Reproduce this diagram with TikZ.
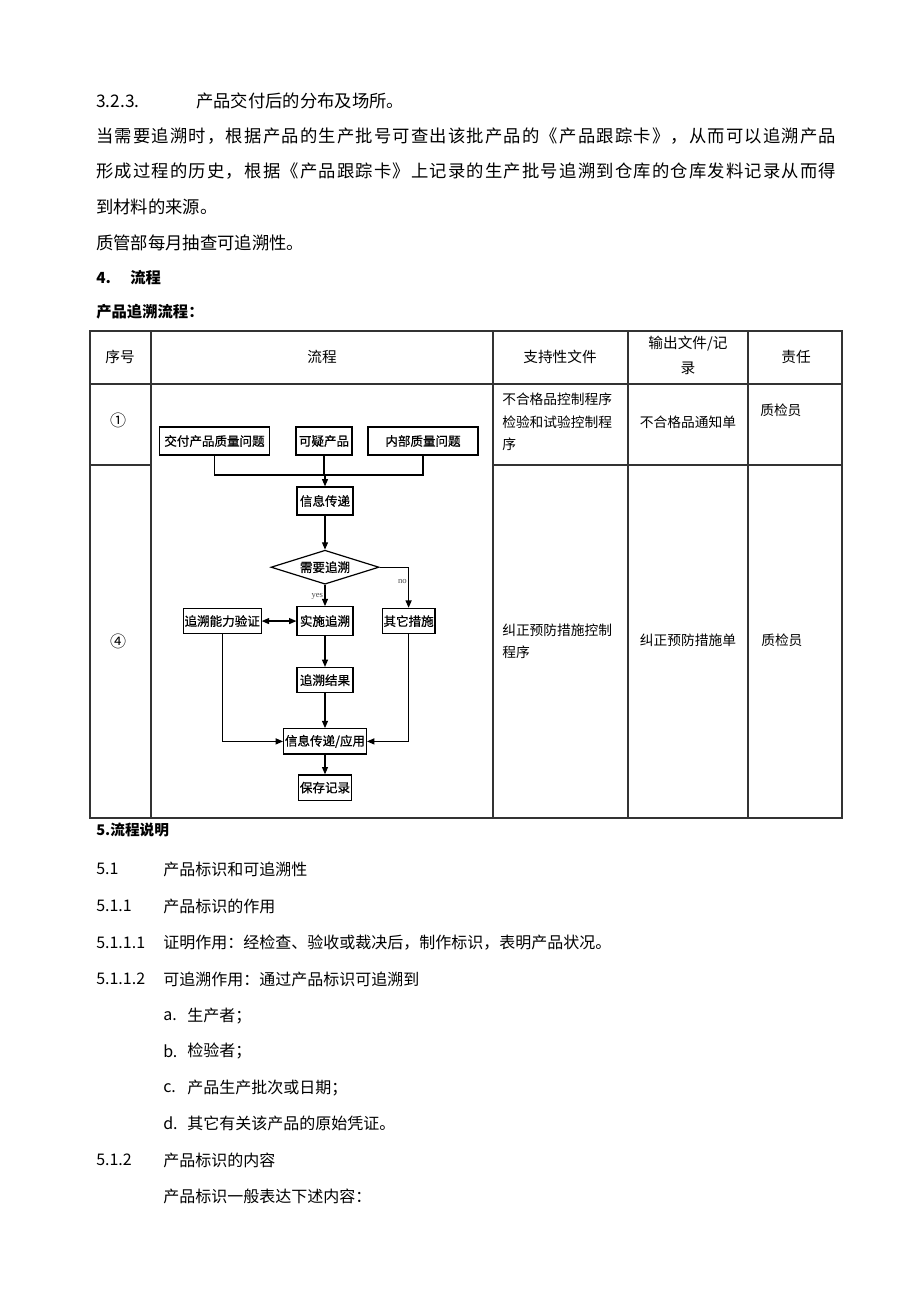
\documentclass[tikz,border=0pt]{standalone}
\usepackage{fontspec}
\setmainfont{Noto Sans CJK SC}
\newfontfamily\latinserif{Liberation Serif}
\newfontfamily\flowfont{Noto Sans CJK SC}[FakeBold=0.8]
\usetikzlibrary{arrows.meta, positioning, shapes.geometric}

% wider letter spacing for the two full-width lines
\newcommand{\widelines}{\addfontfeatures{LetterSpace=6.9}}

\begin{document}
\begin{tikzpicture}[
    x=0.75pt, y=-0.75pt,
    >={Triangle[length=5.5pt, width=4.5pt]},
    % Styles
    bodytext/.style={anchor=west, inner sep=0pt, font=\fontsize{13}{15}\selectfont},
    smalltext/.style={anchor=west, inner sep=0pt, font=\fontsize{12}{14}\selectfont},
    headline/.style={anchor=west, inner sep=0pt, font=\fontsize{11.5}{14}\selectfont\bfseries},
    tableline/.style={line width=0.8pt, color=black!80},
    headtext/.style={inner sep=0pt, font=\fontsize{11}{18.75}\selectfont, align=center},
    celltext/.style={inner sep=0pt, font=\fontsize{10.3}{17}\selectfont, align=left},
    numtext/.style={inner sep=0pt, font=\fontsize{12}{14}\selectfont},
    flowbox/.style={rectangle, draw=black, line width=0.9pt, font=\flowfont\fontsize{9.4}{11}\selectfont, inner xsep=1pt, inner ysep=0pt, minimum height=19pt, minimum width=#1},
    decision/.style={diamond, draw=black, line width=0.9pt, font=\flowfont\fontsize{9.4}{11}\selectfont, inner sep=0pt, aspect=3.2, minimum width=81pt, minimum height=25.5pt},
    flowline/.style={line width=0.9pt},
    arrowline/.style={->, line width=0.9pt},
    branchlabel/.style={font=\latinserif\fontsize{6.5}{7}\selectfont, inner sep=1pt, color=black!70},
]

% === PAGE ===
\fill[white] (0,0) rectangle (920,1302);
\useasboundingbox (0,0) rectangle (920,1302);

% === SECTION 3.2.3 ===
\node[bodytext] (s323num) at (96,101) {3.2.3.};
\node[bodytext] (s323) at (196,101) {产品交付后的分布及场所。};
\node[bodytext] (para1) at (96,136) {\widelines 当需要追溯时，根据产品的生产批号可查出该批产品的《产品跟踪卡》，从而可以追溯产品};
\node[bodytext] (para2) at (96,171) {\widelines 形成过程的历史，根据《产品跟踪卡》上记录的生产批号追溯到仓库的仓库发料记录从而得};
\node[bodytext] (para3) at (96,207) {到材料的来源。};
\node[bodytext] (para4) at (96,243) {质管部每月抽查可追溯性。};

% === SECTION 4 ===
\node[headline] (s4num) at (96,278) {4.};
\node[headline] (s4) at (130,278) {流程};
\node[headline] (flowtitle) at (96,312) {产品追溯流程：};

% === TABLE GRID ===
\draw[tableline] (90,331) rectangle (842,818);
\draw[tableline] (90,384) -- (842,384);
\draw[tableline] (90,465) -- (151,465);
\draw[tableline] (493,465) -- (842,465);
\foreach \cx in {151,493,628,748}
  \draw[tableline] (\cx,331) -- (\cx,818);

% === TABLE HEADER ===
\node[headtext] (hnum) at (120,357) {序号};
\node[headtext] (hflow) at (322,357) {流程};
\node[headtext] (hsupp) at (560,357) {支持性文件};
\node[headtext] (hout) at (688,355.5) {输出文件/记\\录};
\node[headtext] (hresp) at (796,357) {责任};

% === ROW 1 ===
\node[numtext] (step1) at (118,420) {①};
\node[celltext, anchor=west] (supp1) at (502,422) {不合格品控制程序\\检验和试验控制程\\序};
\node[celltext] (out1) at (688,422) {不合格品通知单};
\node[celltext, anchor=west] (resp1) at (760,410) {质检员};

% === ROW 2 ===
\node[numtext] (step4) at (118,641) {④};
\node[celltext, anchor=west, font=\fontsize{10.3}{16.5}\selectfont] (supp4) at (502,641) {纠正预防措施控制\\程序};
\node[celltext] (out4) at (688,640) {纠正预防措施单};
\node[celltext, anchor=west] (resp4) at (761,640) {质检员};

% === FLOWCHART: SOURCES ===
\node[flowbox=83pt, minimum height=21pt] (deliver) at (214.5,441) {交付产品质量问题};
\node[flowbox=42pt, minimum height=21pt] (suspect) at (324,441) {可疑产品};
\node[flowbox=82.5pt, minimum height=21pt] (internal) at (423,441) {内部质量问题};
\coordinate (join) at (325,475);
\node[flowbox=42pt, minimum height=21pt] (info) at (325,501) {信息传递};
\draw[flowline] (deliver.south) |- (join) -| (internal.south);
\draw[flowline] (suspect.south) -- (suspect.south |- join);
\draw[arrowline] (join) -- (info);

% === FLOWCHART: DECISION ===
\node[decision, below=25.5pt of info] (need) {需要追溯};
\draw[arrowline] (info) -- (need);
\node[flowbox=42pt, minimum height=21.5pt, below=16pt of need] (trace) {实施追溯};
\node[flowbox=56pt, left=26pt of trace] (verify) {追溯能力验证};
\node[flowbox=39pt, right=21pt of trace] (other) {其它措施};
\draw[arrowline] (need) -- node[branchlabel, left, pos=0.55] (yeslbl) {yes} (trace);
\draw[arrowline] (need.east) -| node[branchlabel, left, pos=0.68] (nolbl) {no} (other);
\draw[<->, line width=0.9pt] (verify) -- (trace);

% === FLOWCHART: RESULTS ===
\node[flowbox=42pt, below=23.2pt of trace] (result) {追溯结果};
\node[flowbox=60pt, below=26pt of result] (apply) {信息传递/应用};
\node[flowbox=39pt, below=14.75pt of apply] (save) {保存记录};
\draw[arrowline] (trace) -- (result);
\draw[arrowline] (result) -- (apply);
\draw[arrowline] (verify.south) |- (apply.west);
\draw[arrowline] (other.south) |- (apply.east);
\draw[arrowline] (apply) -- (save);

% === SECTION 5 ===
\node[headline, font=\fontsize{11}{13}\selectfont\bfseries] (s5) at (96,830) {5.流程说明};
\node[smalltext] (s51num) at (96,869) {5.1};
\node[smalltext] (s51) at (163,869) {产品标识和可追溯性};
\node[smalltext] (s511num) at (96,906) {5.1.1};
\node[smalltext] (s511) at (163,906) {产品标识的作用};
\node[smalltext] (s5111num) at (96,943) {5.1.1.1};
\node[smalltext] (s5111) at (163,943) {证明作用：经检查、验收或裁决后，制作标识，表明产品状况。};
\node[smalltext] (s5112num) at (96,979) {5.1.1.2};
\node[smalltext] (s5112) at (163,979) {可追溯作用：通过产品标识可追溯到};
\node[smalltext] (itemanum) at (163,1016) {a.};
\node[smalltext] (itema) at (187,1016) {生产者；};
\node[smalltext] (itembnum) at (163,1051) {b.};
\node[smalltext] (itemb) at (187,1051) {检验者；};
\node[smalltext] (itemcnum) at (163,1088) {c.};
\node[smalltext] (itemc) at (187,1088) {产品生产批次或日期；};
\node[smalltext] (itemdnum) at (163,1123) {d.};
\node[smalltext] (itemd) at (187,1123) {其它有关该产品的原始凭证。};
\node[smalltext] (s512num) at (96,1160) {5.1.2};
\node[smalltext] (s512) at (163,1160) {产品标识的内容};
\node[smalltext] (s512text) at (163,1196) {产品标识一般表达下述内容：};

\end{tikzpicture}
\end{document}
